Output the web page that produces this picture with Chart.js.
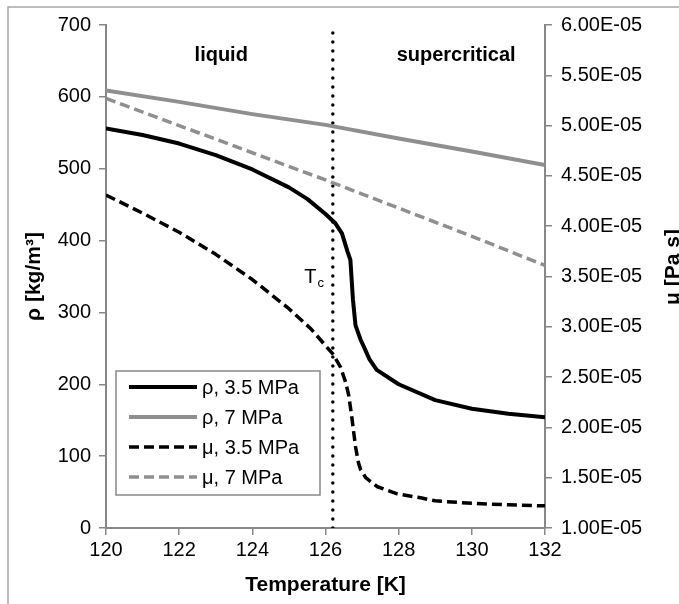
<!DOCTYPE html>
<html>
<head>
<meta charset="utf-8">
<script src="https://cdn.jsdelivr.net/npm/chart.js@4.4.1/dist/chart.umd.min.js"></script>
<style>
  html, body { margin: 0; padding: 0; background: #fff; }
  #wrap { width: 679px; height: 604px; }
</style>
</head>
<body>
<div id="wrap"><canvas id="chart" width="679" height="604"></canvas></div>
<script>
// density, 3.5 MPa (kg/m3)
const tRho35 = [120, 121, 122, 123, 124, 125, 125.5, 126, 126.27, 126.45, 126.6, 126.68, 126.75, 126.82, 126.96, 127.05, 127.2, 127.4, 128, 129, 130, 131, 132];
const rho35  = [556, 547, 535, 519, 499, 474, 458, 437, 424, 410, 385, 373, 318, 282, 262, 252, 235, 220, 200, 178, 166, 159, 154];

// viscosity, 3.5 MPa (Pa s)
const tMu35 = [120, 121, 122, 123, 124, 125, 125.6, 126.2, 126.41, 126.55, 126.64, 126.73, 126.82, 126.9, 126.96, 127.1, 127.42, 127.96, 128.6, 129, 130, 131, 132];
const mu35  = [4.31e-5, 4.13e-5, 3.94e-5, 3.72e-5, 3.47e-5, 3.18e-5, 2.98e-5, 2.73e-5, 2.60e-5, 2.45e-5, 2.31e-5, 2.07e-5, 1.81e-5, 1.65e-5, 1.58e-5, 1.50e-5, 1.41e-5, 1.34e-5, 1.30e-5, 1.27e-5, 1.245e-5, 1.23e-5, 1.22e-5];

// 7 MPa series
const t7    = [120, 122, 124, 126, 128, 130, 132];
const rho7  = [609, 593, 576, 561, 542, 524, 505];
const mu7   = [5.27e-5, 5.00e-5, 4.73e-5, 4.46e-5, 4.18e-5, 3.90e-5, 3.61e-5];

// critical temperature marker
const tCrit = 126.2;
const tCritSpan = [0, 695];

const xTicks = { min: 120, max: 132, step: 2 };
const rhoTicks = { min: 0, max: 700, step: 100 };
const muTicks = { min: 1e-5, max: 6e-5, step: 5e-6 };

const BLACK = '#000000';
const GREY = '#8f8f8f';
const AXIS = '#888888';
const FONT = '"Liberation Sans", Arial, sans-serif';

Chart.defaults.font.family = FONT;
Chart.defaults.color = '#000';

function pts(xs, ys) {
  return xs.map((x, i) => ({ x: x, y: ys[i] }));
}

function sci(v) {
  const parts = v.toExponential(2).split('e');
  const n = parseInt(parts[1], 10);
  return parts[0] + 'E' + (n < 0 ? '-' : '+') + String(Math.abs(n)).padStart(2, '0');
}

// frame, legend box and text labels
const extras = {
  id: 'extras',
  beforeDraw(chart) {
    const ctx = chart.ctx;
    ctx.save();
    ctx.fillStyle = '#fff';
    ctx.fillRect(0, 0, chart.width, chart.height);
    ctx.strokeStyle = '#a6a6a6';
    ctx.lineWidth = 1.5;
    ctx.strokeRect(8, 7, chart.width + 10, chart.height + 10);
    ctx.restore();
  },
  afterDraw(chart) {
    const ctx = chart.ctx;
    const x = chart.scales.x, y = chart.scales.y;
    const area = chart.chartArea;
    ctx.save();

    // region labels
    ctx.fillStyle = '#000';
    ctx.font = 'bold 20px ' + FONT;
    ctx.textAlign = 'center';
    ctx.textBaseline = 'alphabetic';
    ctx.fillText('liquid', x.getPixelForValue(123.15), y.getPixelForValue(650));
    ctx.fillText('supercritical', x.getPixelForValue(129.57), y.getPixelForValue(650));

    // T_c
    ctx.textAlign = 'left';
    ctx.font = '20px ' + FONT;
    const tx = x.getPixelForValue(125.42), ty = y.getPixelForValue(341);
    ctx.fillText('T', tx, ty);
    const tw = ctx.measureText('T').width;
    ctx.font = '13px ' + FONT;
    ctx.fillText('c', tx + tw + 1, ty + 4);

    // right axis title, reading upward
    ctx.font = 'bold 21px ' + FONT;
    ctx.textAlign = 'center';
    ctx.textBaseline = 'middle';
    ctx.translate(673, 267);
    ctx.rotate(-Math.PI / 2);
    ctx.fillText('μ [Pa s]', 0, 0);
    ctx.setTransform(1, 0, 0, 1, 0, 0);

    // legend
    const bx = area.left + 10, by = 371, bw = 204, bh = 124;
    ctx.fillStyle = '#fff';
    ctx.fillRect(bx, by, bw, bh);
    ctx.strokeStyle = AXIS;
    ctx.lineWidth = 1.5;
    ctx.strokeRect(bx, by, bw, bh);
    ctx.font = '20px ' + FONT;
    ctx.textAlign = 'left';
    ctx.textBaseline = 'middle';
    chart.data.datasets.slice(0, 4).forEach((ds, i) => {
      const ly = by + 16 + i * 30;
      ctx.beginPath();
      ctx.strokeStyle = ds.borderColor;
      ctx.lineWidth = ds.borderWidth;
      ctx.setLineDash(ds.borderDash || []);
      ctx.moveTo(bx + 13, ly);
      ctx.lineTo(bx + 81, ly);
      ctx.stroke();
      ctx.setLineDash([]);
      ctx.fillStyle = '#000';
      ctx.fillText(ds.label, bx + 86, ly + 1);
    });
    ctx.restore();
  }
};

const line = { pointRadius: 0, fill: false, tension: 0, borderJoinStyle: 'round' };

new Chart(document.getElementById('chart'), {
  type: 'line',
  data: {
    datasets: [
      Object.assign({ label: 'ρ, 3.5 MPa', data: pts(tRho35, rho35), yAxisID: 'y', borderColor: BLACK, borderWidth: 4 }, line),
      Object.assign({ label: 'ρ, 7 MPa', data: pts(t7, rho7), yAxisID: 'y', borderColor: GREY, borderWidth: 4 }, line),
      Object.assign({ label: 'μ, 3.5 MPa', data: pts(tMu35, mu35), yAxisID: 'y2', borderColor: BLACK, borderWidth: 3.5, borderDash: [10, 5] }, line),
      Object.assign({ label: 'μ, 7 MPa', data: pts(t7, mu7), yAxisID: 'y2', borderColor: GREY, borderWidth: 3.5, borderDash: [10, 5] }, line),
      Object.assign({ label: 'Tc', data: [{ x: tCrit, y: tCritSpan[0] }, { x: tCrit, y: tCritSpan[1] }], yAxisID: 'y',
        borderColor: BLACK, borderWidth: 3.5, borderDash: [0, 9], borderCapStyle: 'round' }, line)
    ]
  },
  options: {
    responsive: false,
    animation: false,
    layout: { padding: { top: 25, left: 0, right: 0, bottom: 0 } },
    plugins: { legend: { display: false }, tooltip: { enabled: false } },
    scales: {
      x: {
        type: 'linear', position: 'bottom',
        min: xTicks.min, max: xTicks.max,
        ticks: { stepSize: xTicks.step, font: { size: 20 }, color: '#000', padding: 3 },
        grid: { drawOnChartArea: false, tickLength: 7, color: AXIS, lineWidth: 1.5 },
        border: { color: AXIS, width: 2 },
        title: { display: true, text: 'Temperature [K]', font: { size: 21, weight: 'bold' }, color: '#000', padding: { top: 0, bottom: 6 } },
        afterFit(s) { s.height = 76; }
      },
      y: {
        type: 'linear', position: 'left',
        min: rhoTicks.min, max: rhoTicks.max,
        ticks: { stepSize: rhoTicks.step, font: { size: 20 }, color: '#000', padding: 8 },
        grid: { drawOnChartArea: false, tickLength: 7, color: AXIS, lineWidth: 1.5 },
        border: { color: AXIS, width: 2 },
        title: { display: true, text: 'ρ [kg/m³]', font: { size: 21, weight: 'bold' }, color: '#000', padding: { top: 22, bottom: 0 } },
        afterFit(s) { s.width = 106; }
      },
      y2: {
        type: 'linear', position: 'right',
        min: muTicks.min, max: muTicks.max,
        ticks: { stepSize: muTicks.step, font: { size: 20 }, color: '#000', padding: 9, callback: v => sci(v) },
        grid: { drawOnChartArea: false, tickLength: 7, color: AXIS, lineWidth: 1.5 },
        border: { color: AXIS, width: 2 },
        afterFit(s) { s.width = 134; }
      }
    }
  },
  plugins: [extras]
});
</script>
</body>
</html>
